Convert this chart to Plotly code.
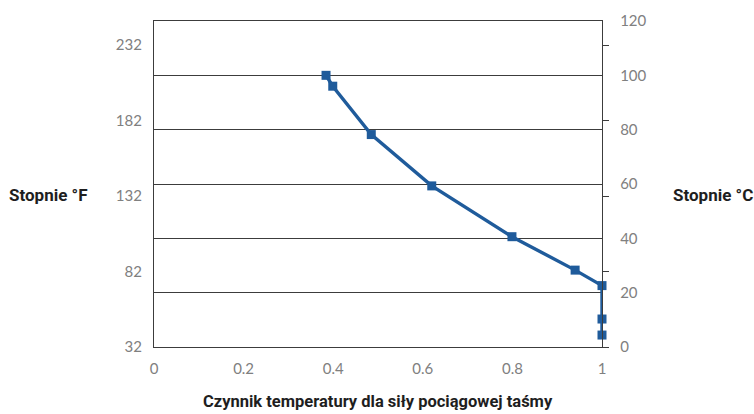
import plotly.graph_objects as go

# Traction-force temperature factor vs. belt temperature
factor = [0.384, 0.399, 0.485, 0.620, 0.799, 0.940, 1.0, 1.0, 1.0]
temp_c = [100, 96, 78.2, 59.3, 40.6, 28.3, 22.6, 10.3, 4.4]

x_ticks = [0, 0.2, 0.4, 0.6, 0.8, 1]
x_labels = ["0", "0.2", "0.4", "0.6", "0.8", "1"]
c_ticks = [0, 20, 40, 60, 80, 100, 120]
f_ticks = [32, 82, 132, 182, 232]

c_range = [0, 120]
f_range = [c * 9 / 5 + 32 for c in c_range]

line_col = "#1f5b9b"
grid_col = "#3c3c3c"
clear = "rgba(0,0,0,0)"
tick_font = dict(family="Lato, Open Sans, sans-serif", size=15, color="#808080")
title_font = dict(family="Roboto, Liberation Sans, sans-serif", size=16.5, color="#1e1e1e")
side_font = dict(family="Roboto, Liberation Sans, sans-serif", size=17, color="#1e1e1e")

fig = go.Figure()
fig.add_trace(go.Scatter(
    x=factor, y=temp_c, mode="lines+markers",
    line=dict(color=line_col, width=3.4),
    marker=dict(symbol="square", size=9, color=line_col),
    cliponaxis=False, yaxis="y", showlegend=False,
))
# empty traces so the Fahrenheit axes are drawn
fig.add_trace(go.Scatter(x=[None], y=[None], yaxis="y2", showlegend=False))
fig.add_trace(go.Scatter(x=[None], y=[None], yaxis="y3", showlegend=False))

fig.update_layout(
    width=754, height=414,
    margin=dict(l=154, r=152, t=21, b=67),
    paper_bgcolor="white", plot_bgcolor="white",
    xaxis=dict(range=[0, 1], tickvals=x_ticks, ticktext=x_labels,
               showgrid=False, zeroline=False, showline=True, mirror=True,
               linecolor=grid_col, linewidth=1.3,
               ticks="outside", ticklen=8, tickcolor=clear, tickfont=tick_font),
    yaxis=dict(range=c_range, tickvals=c_ticks, side="right",
               showgrid=True, gridcolor=grid_col, gridwidth=1.3,
               zeroline=False, showline=True, linecolor=grid_col, linewidth=1.3,
               ticks="outside", ticklen=14, tickcolor=clear, tickfont=tick_font),
    yaxis2=dict(range=f_range, tickvals=f_ticks, side="left", overlaying="y",
                showgrid=False, zeroline=False, showline=True,
                linecolor=grid_col, linewidth=1.3,
                ticks="outside", ticklen=8, tickcolor=clear, tickfont=tick_font),
    yaxis3=dict(range=f_range, tickvals=f_ticks, side="right", overlaying="y",
                showgrid=False, zeroline=False, showline=False,
                ticks="outside", ticklen=6, tickwidth=1.3, tickcolor=grid_col,
                showticklabels=False),
    annotations=[
        dict(text="<b>Czynnik temperatury dla siły pociągowej taśmy</b>",
             xref="paper", yref="paper", x=0.5, y=-0.167, yanchor="middle",
             xanchor="center", showarrow=False, font=title_font),
        dict(text="<b>Stopnie °F</b>", xref="paper", yref="paper",
             x=-0.2366, y=0.466, xanchor="center", yanchor="middle",
             showarrow=False, font=side_font),
        dict(text="<b>Stopnie °C</b>", xref="paper", yref="paper",
             x=1.2467, y=0.466, xanchor="center", yanchor="middle",
             showarrow=False, font=side_font),
    ],
)

fig.write_html("out.html")
